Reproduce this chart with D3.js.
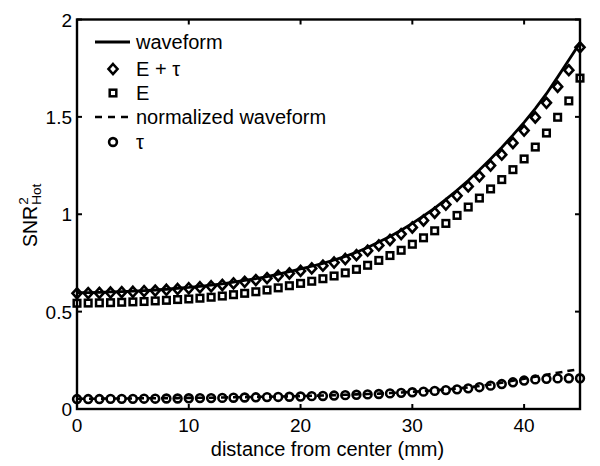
<!DOCTYPE html>
<html><head><meta charset="utf-8">
<script src="https://cdn.jsdelivr.net/npm/d3@7"></script>
<style>body{margin:0;background:#fff}svg{display:block}text{font-family:"Liberation Sans",Arial,sans-serif;fill:#000}</style>
</head><body><svg id="c" width="600" height="466"></svg>
<script>
const distance = [0,1,2,3,4,5,6,7,8,9,10,11,12,13,14,15,16,17,18,19,20,21,22,23,24,25,26,27,28,29,30,31,32,33,34,35,36,37,38,39,40,41,42,43,44,45];
const waveform = [0.597,0.598,0.599,0.601,0.603,0.605,0.608,0.611,0.615,0.620,0.624,0.630,0.636,0.643,0.651,0.660,0.669,0.680,0.692,0.705,0.719,0.733,0.748,0.765,0.784,0.805,0.829,0.857,0.886,0.918,0.953,0.991,1.032,1.076,1.123,1.173,1.227,1.284,1.343,1.406,1.472,1.542,1.619,1.704,1.792,1.880];
const ePlusTau = [0.594,0.595,0.596,0.598,0.600,0.602,0.605,0.608,0.612,0.616,0.620,0.625,0.630,0.637,0.645,0.653,0.662,0.672,0.684,0.696,0.709,0.722,0.736,0.752,0.770,0.790,0.813,0.840,0.868,0.898,0.932,0.968,1.008,1.050,1.095,1.143,1.195,1.250,1.306,1.366,1.430,1.497,1.572,1.655,1.740,1.857];
const eOnly = [0.543,0.544,0.545,0.546,0.548,0.550,0.552,0.555,0.558,0.562,0.565,0.569,0.574,0.580,0.587,0.594,0.602,0.611,0.622,0.633,0.645,0.656,0.669,0.683,0.699,0.717,0.738,0.763,0.788,0.815,0.846,0.879,0.915,0.953,0.994,1.037,1.083,1.130,1.178,1.229,1.284,1.345,1.417,1.498,1.582,1.699];
const normWaveform = [0.053,0.053,0.053,0.054,0.054,0.054,0.055,0.055,0.056,0.056,0.057,0.058,0.058,0.059,0.060,0.061,0.062,0.063,0.064,0.065,0.066,0.068,0.069,0.071,0.073,0.075,0.077,0.079,0.082,0.085,0.088,0.092,0.096,0.100,0.105,0.111,0.118,0.126,0.135,0.145,0.156,0.166,0.176,0.186,0.196,0.205];
const tau = [0.051,0.051,0.051,0.052,0.052,0.052,0.053,0.053,0.054,0.054,0.055,0.056,0.056,0.057,0.058,0.059,0.060,0.061,0.062,0.063,0.064,0.066,0.067,0.069,0.071,0.073,0.075,0.077,0.080,0.083,0.086,0.089,0.093,0.097,0.101,0.106,0.112,0.120,0.128,0.137,0.146,0.152,0.155,0.157,0.158,0.158];
const xTicks = [0,10,20,30,40];
const yTicks = [0,0.5,1,1.5,2];
const yTickLabels = ["0","0.5","1","1.5","2"];
const legendLabels = ["waveform","E + \u03C4","E","normalized waveform","\u03C4"];
const xLabel = "distance from center (mm)";

const svg = d3.select("#c");
const L=77, R=580, T=19.5, B=409;
const x = d3.scaleLinear().domain([0,45]).range([L,R]);
const y = d3.scaleLinear().domain([0,2]).range([B,T]);
const FS = 19;

const line = d3.line().x((d,i)=>x(distance[i])).y(d=>y(d));
const plot = svg.append("g");
plot.append("path").attr("d",line(waveform)).attr("fill","none").attr("stroke","#000").attr("stroke-width",2.8);
plot.append("path").attr("d",line(normWaveform)).attr("fill","none").attr("stroke","#000").attr("stroke-width",2.6).attr("stroke-dasharray","7,5");

function marker(g, type, cx, cy){
  if(type==="diamond"){
    g.append("path").attr("d",`M${cx},${cy-5}L${cx+4.5},${cy}L${cx},${cy+5}L${cx-4.5},${cy}Z`).attr("fill","none").attr("stroke","#000").attr("stroke-width",2.6);
  } else if(type==="square"){
    g.append("rect").attr("x",cx-3.3).attr("y",cy-3.3).attr("width",6.6).attr("height",6.6).attr("fill","none").attr("stroke","#000").attr("stroke-width",2.5);
  } else {
    g.append("circle").attr("cx",cx).attr("cy",cy).attr("r",3.9).attr("fill","none").attr("stroke","#000").attr("stroke-width",2.6);
  }
}
ePlusTau.forEach((v,i)=>marker(plot,"diamond",x(distance[i]),y(v)));
eOnly.forEach((v,i)=>marker(plot,"square",x(distance[i]),y(v)));
tau.forEach((v,i)=>marker(plot,"circle",x(distance[i]),y(v)));

// box and ticks
const ax = svg.append("g");
ax.append("rect").attr("x",L).attr("y",T).attr("width",R-L).attr("height",B-T).attr("fill","none").attr("stroke","#000").attr("stroke-width",2.4);
const tl=5;
xTicks.forEach(t=>{
  ax.append("line").attr("x1",x(t)).attr("x2",x(t)).attr("y1",B).attr("y2",B-tl).attr("stroke","#000").attr("stroke-width",2);
  ax.append("line").attr("x1",x(t)).attr("x2",x(t)).attr("y1",T).attr("y2",T+tl).attr("stroke","#000").attr("stroke-width",2);
  ax.append("text").attr("x",x(t)).attr("y",B+23).attr("text-anchor","middle").attr("font-size",FS).text(t);
});
yTicks.forEach((t,i)=>{
  ax.append("line").attr("x1",L).attr("x2",L+tl).attr("y1",y(t)).attr("y2",y(t)).attr("stroke","#000").attr("stroke-width",2);
  ax.append("line").attr("x1",R).attr("x2",R-tl).attr("y1",y(t)).attr("y2",y(t)).attr("stroke","#000").attr("stroke-width",2);
  ax.append("text").attr("x",L-5).attr("y",y(t)+7).attr("text-anchor","end").attr("font-size",FS).text(yTickLabels[i]);
});
svg.append("text").attr("x",327.5).attr("y",456).attr("text-anchor","middle").attr("font-size",20).text(xLabel);

// y label
const yl = svg.append("g").attr("transform","translate(37,247) rotate(-90)");
const snr = yl.append("text").attr("x",0).attr("y",0).attr("font-size",19.5).text("SNR");
const w = snr.node().getComputedTextLength();
yl.append("text").attr("x",w+1).attr("y",-9).attr("font-size",13.5).text("2");
yl.append("text").attr("x",w+1).attr("y",4).attr("font-size",13.5).text("Hot");

// legend
const lg = svg.append("g");
const ly = [42,69,93,117,142];
const types = ["line","diamond","square","dash","circle"];
types.forEach((tp,i)=>{
  if(tp==="line") lg.append("line").attr("x1",95).attr("x2",130).attr("y1",ly[i]).attr("y2",ly[i]).attr("stroke","#000").attr("stroke-width",2.8);
  else if(tp==="dash") lg.append("line").attr("x1",95).attr("x2",132).attr("y1",ly[i]).attr("y2",ly[i]).attr("stroke","#000").attr("stroke-width",2.6).attr("stroke-dasharray","7,6");
  else marker(lg,tp,113,ly[i]);
  lg.append("text").attr("x",136).attr("y",ly[i]+7).attr("font-size",20).text(legendLabels[i]);
});
</script></body></html>
